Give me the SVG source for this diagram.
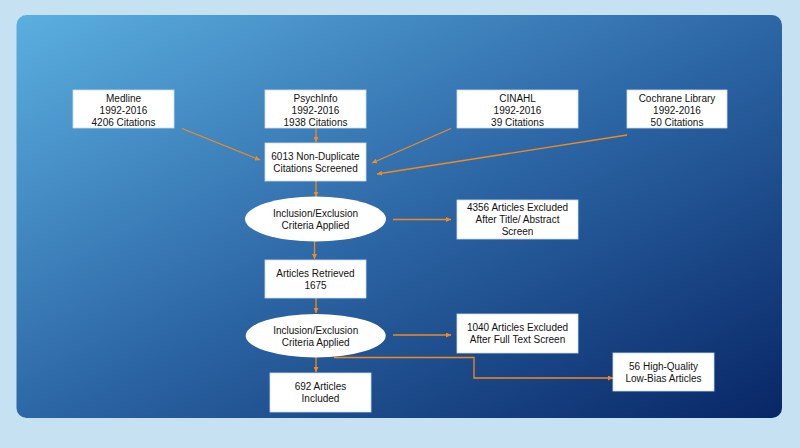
<svg xmlns="http://www.w3.org/2000/svg" width="800" height="448" viewBox="0 0 800 448">
<defs>
<linearGradient id="bg" x1="0" y1="0" x2="1" y2="1">
<stop offset="0" stop-color="#5bafe0"/>
<stop offset="0.5" stop-color="#2d67a6"/>
<stop offset="1" stop-color="#082666"/>
</linearGradient>
<marker id="ah" viewBox="0 0 10 10" refX="10" refY="5" markerWidth="5" markerHeight="5" orient="auto" markerUnits="userSpaceOnUse">
<path d="M0,0 L10,5 L0,10 z" fill="#f28a1e"/>
</marker>
<style>
.box{fill:#ffffff;stroke:#c9dcef;stroke-width:0.8}
.t{font-family:"Liberation Sans",Arial,sans-serif;font-size:10px;fill:#111111;text-anchor:middle}
.c{fill:none;stroke:#f28a1e;stroke-width:1.3;marker-end:url(#ah)}
</style>
</defs>
<rect x="0" y="0" width="800" height="448" fill="#c6e2f2"/>
<rect x="16.5" y="15" width="765.5" height="403" rx="10" ry="10" fill="url(#bg)"/>
<g id="connectors">
<line class="c" x1="316" y1="128" x2="316" y2="142"/>
<line class="c" x1="182" y1="128.5" x2="260" y2="160"/>
<line class="c" x1="451" y1="128.5" x2="372" y2="163"/>
<line class="c" x1="627" y1="135" x2="377" y2="174"/>
<line class="c" x1="316" y1="181" x2="316" y2="197"/>
<line class="c" x1="393" y1="219.5" x2="451" y2="219.5"/>
<line class="c" x1="314.5" y1="241.5" x2="314.5" y2="259"/>
<line class="c" x1="316" y1="298" x2="316" y2="313"/>
<line class="c" x1="393" y1="335" x2="451" y2="335"/>
<line class="c" x1="316" y1="357" x2="316" y2="372"/>
<polyline class="c" points="334,357.5 474,357.5 474,378 613,378"/>
</g>
<g id="medline"><rect class="box" x="73" y="90" width="101" height="38"/>
<text class="t" x="123.5" y="101.5">Medline</text><text class="t" x="123.5" y="113.5">1992-2016</text><text class="t" x="123.5" y="125.5">4206 Citations</text></g>
<g id="psychinfo"><rect class="box" x="265" y="90" width="101" height="38"/>
<text class="t" x="315.5" y="101.5">PsychInfo</text><text class="t" x="315.5" y="113.5">1992-2016</text><text class="t" x="315.5" y="125.5">1938 Citations</text></g>
<g id="cinahl"><rect class="box" x="457" y="90" width="121" height="38"/>
<text class="t" x="517.5" y="101.5">CINAHL</text><text class="t" x="517.5" y="113.5">1992-2016</text><text class="t" x="517.5" y="125.5">39 Citations</text></g>
<g id="cochrane"><rect class="box" x="627" y="90" width="100" height="38"/>
<text class="t" x="677" y="101.5">Cochrane Library</text><text class="t" x="677" y="113.5">1992-2016</text><text class="t" x="677" y="125.5">50 Citations</text></g>
<g id="nondup"><rect class="box" x="265" y="143" width="101" height="38"/>
<text class="t" x="315.5" y="160">6013 Non-Duplicate</text><text class="t" x="315.5" y="172">Citations Screened</text></g>
<g id="criteria1"><ellipse cx="315.5" cy="219" rx="70.5" ry="22.5" fill="#ffffff"/>
<text class="t" x="315.5" y="217">Inclusion/Exclusion</text><text class="t" x="315.5" y="229">Criteria Applied</text></g>
<g id="excluded1"><rect class="box" x="457" y="200" width="121" height="39"/>
<text class="t" x="517.5" y="211">4356 Articles Excluded</text><text class="t" x="517.5" y="223">After Title/ Abstract</text><text class="t" x="517.5" y="235">Screen</text></g>
<g id="retrieved"><rect class="box" x="265" y="260" width="101" height="38"/>
<text class="t" x="315.5" y="277">Articles Retrieved</text><text class="t" x="315.5" y="289">1675</text></g>
<g id="criteria2"><ellipse cx="315.7" cy="335.7" rx="70" ry="21.7" fill="#ffffff"/>
<text class="t" x="315.7" y="334">Inclusion/Exclusion</text><text class="t" x="315.7" y="346">Criteria Applied</text></g>
<g id="excluded2"><rect class="box" x="457" y="314" width="121" height="39"/>
<text class="t" x="517.5" y="331">1040 Articles Excluded</text><text class="t" x="517.5" y="343">After Full Text Screen</text></g>
<g id="included"><rect class="box" x="270" y="373" width="101" height="39"/>
<text class="t" x="320.5" y="390">692 Articles</text><text class="t" x="320.5" y="402">Included</text></g>
<g id="highquality"><rect class="box" x="613" y="353" width="101" height="38"/>
<text class="t" x="663.5" y="370">56 High-Quality</text><text class="t" x="663.5" y="382">Low-Bias Articles</text></g>
</svg>
